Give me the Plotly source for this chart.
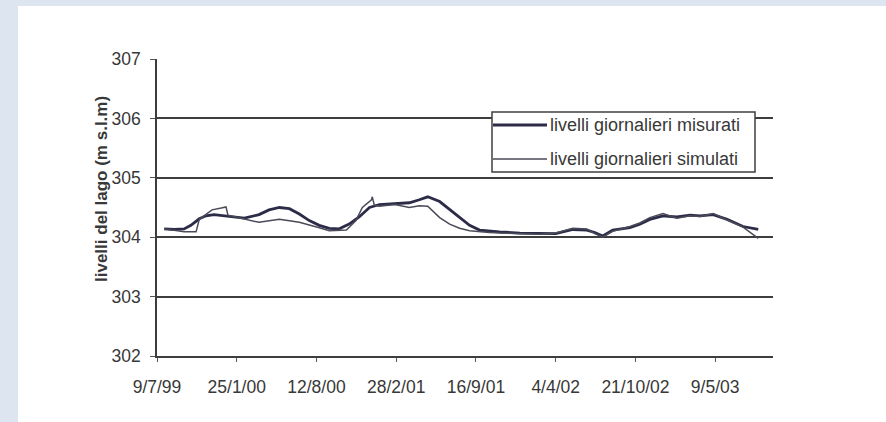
import plotly.graph_objects as go

# Daily lake levels (m a.s.l.), sampled along the series
dates_measured = [
    "1999-07-27", "1999-08-21", "1999-09-15", "1999-10-02", "1999-10-23", "1999-11-09",
    "1999-11-29", "2000-01-06", "2000-02-13", "2000-03-21", "2000-04-15", "2000-05-11",
    "2000-06-05", "2000-06-30", "2000-07-25", "2000-08-19", "2000-09-13", "2000-10-08",
    "2000-11-02", "2000-11-27", "2000-12-23", "2001-01-17", "2001-02-24", "2001-04-02",
    "2001-04-27", "2001-05-18", "2001-06-17", "2001-07-12", "2001-08-06", "2001-08-31",
    "2001-09-25", "2001-10-20", "2001-11-14", "2002-01-04", "2002-02-23", "2002-04-04",
    "2002-05-17", "2002-06-21", "2002-07-11", "2002-07-31", "2002-08-25", "2002-10-07",
    "2002-11-01", "2002-11-26", "2002-12-29", "2003-02-02", "2003-03-07", "2003-04-01",
    "2003-05-04", "2003-06-08", "2003-07-18", "2003-08-25",
]
levels_measured = [
    304.14, 304.13, 304.14, 304.20, 304.31, 304.36,
    304.38, 304.35, 304.32, 304.38, 304.46, 304.50,
    304.48, 304.39, 304.28, 304.20, 304.15, 304.14,
    304.22, 304.34, 304.50, 304.55, 304.56, 304.58,
    304.63, 304.68, 304.60, 304.47, 304.34, 304.20,
    304.12, 304.10, 304.09, 304.07, 304.06, 304.06,
    304.13, 304.12, 304.08, 304.02, 304.12, 304.16,
    304.22, 304.30, 304.36, 304.34, 304.37, 304.36,
    304.38, 304.30, 304.18, 304.13,
]

dates_simulated = [
    "1999-07-27", "1999-08-21", "1999-09-15", "1999-10-15", "1999-10-23", "1999-11-04",
    "1999-11-24", "1999-12-17", "1999-12-29", "2000-01-03", "2000-02-13", "2000-03-21",
    "2000-05-11", "2000-06-30", "2000-08-19", "2000-09-13", "2000-10-26", "2000-11-19",
    "2000-12-05", "2000-12-28", "2000-12-30", "2001-01-04", "2001-01-17", "2001-02-24",
    "2001-04-02", "2001-04-27", "2001-05-18", "2001-06-17", "2001-07-12", "2001-08-06",
    "2001-08-31", "2001-09-25", "2001-10-20", "2001-11-14", "2002-01-04", "2002-02-23",
    "2002-04-04", "2002-05-17", "2002-06-21", "2002-07-11", "2002-07-31", "2002-08-25",
    "2002-10-07", "2002-11-01", "2002-11-26", "2002-12-29", "2003-02-02", "2003-03-07",
    "2003-04-01", "2003-05-04", "2003-06-08", "2003-07-18", "2003-08-25",
]
levels_simulated = [
    304.14, 304.12, 304.09, 304.09, 304.30, 304.36,
    304.46, 304.49, 304.51, 304.37, 304.31, 304.25,
    304.30, 304.25, 304.16, 304.11, 304.12, 304.28,
    304.50, 304.63, 304.68, 304.54, 304.52, 304.55,
    304.50, 304.53, 304.52, 304.33, 304.22, 304.15,
    304.11, 304.09, 304.08, 304.07, 304.06, 304.05,
    304.07, 304.15, 304.14, 304.06, 304.00, 304.10,
    304.18, 304.24, 304.33, 304.40, 304.32, 304.36,
    304.35, 304.40, 304.29, 304.17, 303.98,
]

x_tick_dates = ["1999-07-09", "2000-01-25", "2000-08-12", "2001-02-28",
                "2001-09-16", "2002-04-04", "2002-10-21", "2003-05-09"]
x_tick_labels = ["9/7/99", "25/1/00", "12/8/00", "28/2/01",
                 "16/9/01", "4/4/02", "21/10/02", "9/5/03"]
y_ticks = [302, 303, 304, 305, 306, 307]

series_names = ["livelli giornalieri misurati", "livelli giornalieri simulati"]
y_title = "livelli del lago (m s.l.m)"

# Page geometry (pixels) and helpers to place decorations in paper coordinates
W, H = 886, 422
ML, MR, MT, MB = 157, 113, 59, 66
PW, PH = W - ML - MR, H - MT - MB


def px_x(p):
    return (p - ML) / PW


def px_y(p):
    return (H - MB - p) / PH


FONT = "Liberation Sans, Arial, sans-serif"
TXT = "#383838"
C_MEAS = "#2c2c48"
C_SIM = "#4a4a58"

fig = go.Figure()
fig.add_trace(go.Scatter(x=dates_measured, y=levels_measured, mode="lines",
                         line=dict(color=C_MEAS, width=2.8), name=series_names[0],
                         showlegend=False))
fig.add_trace(go.Scatter(x=dates_simulated, y=levels_simulated, mode="lines",
                         line=dict(color=C_SIM, width=1.5), name=series_names[1],
                         showlegend=False))

shapes = [
    # light blue page frame on the top and left edges
    dict(type="rect", xref="paper", yref="paper", layer="below",
         x0=px_x(0), x1=px_x(18), y0=px_y(H), y1=px_y(0),
         fillcolor="#dde5f1", line=dict(width=0)),
    dict(type="rect", xref="paper", yref="paper", layer="below",
         x0=px_x(0), x1=px_x(W), y0=px_y(6), y1=px_y(0),
         fillcolor="#dde5f1", line=dict(width=0)),
    # legend box
    dict(type="rect", xref="paper", yref="paper",
         x0=px_x(492), x1=px_x(755), y0=px_y(172), y1=px_y(112),
         fillcolor="white", line=dict(color="#404040", width=1.5)),
    dict(type="line", xref="paper", yref="paper",
         x0=px_x(493), x1=px_x(547), y0=px_y(125), y1=px_y(125),
         line=dict(color=C_MEAS, width=2.8)),
    dict(type="line", xref="paper", yref="paper",
         x0=px_x(493), x1=px_x(547), y0=px_y(159), y1=px_y(159),
         line=dict(color=C_SIM, width=1.5)),
]

annotations = [
    dict(xref="paper", yref="paper", x=px_x(548), y=px_y(125), text=series_names[0],
         showarrow=False, xanchor="left", yanchor="middle",
         font=dict(family=FONT, size=18, color=TXT)),
    dict(xref="paper", yref="paper", x=px_x(548), y=px_y(159), text=series_names[1],
         showarrow=False, xanchor="left", yanchor="middle",
         font=dict(family=FONT, size=18, color=TXT)),
    dict(xref="paper", yref="paper", x=px_x(101), y=px_y(189), text="<b>" + y_title + "</b>",
         showarrow=False, textangle=-90, xanchor="center", yanchor="middle",
         font=dict(family=FONT, size=17, color=TXT)),
]

fig.update_layout(
    width=W, height=H, autosize=False,
    margin=dict(l=ML, r=MR, t=MT, b=MB),
    paper_bgcolor="white", plot_bgcolor="white",
    font=dict(family=FONT, size=17, color=TXT),
    shapes=shapes, annotations=annotations,
    showlegend=False,
)
fig.update_xaxes(
    type="date", range=["1999-07-09", "2003-10-01"],
    tickmode="array", tickvals=x_tick_dates, ticktext=x_tick_labels,
    showgrid=False, showline=True, linecolor="#3d3d3d", linewidth=2,
    ticks="outside", ticklen=4, tickcolor="#555", ticklabelstandoff=10,
    tickfont=dict(family=FONT, size=17.5, color=TXT),
)
fig.update_yaxes(
    range=[302, 307], tickmode="array", tickvals=y_ticks,
    showgrid=True, gridcolor="#3d3d3d", gridwidth=2,
    showline=True, linecolor="#3d3d3d", linewidth=1.5,
    ticks="outside", ticklen=5, tickcolor="#555", ticklabelstandoff=6,
    tickfont=dict(family=FONT, size=17.5, color=TXT), zeroline=False,
)

fig.write_html("out.html")
